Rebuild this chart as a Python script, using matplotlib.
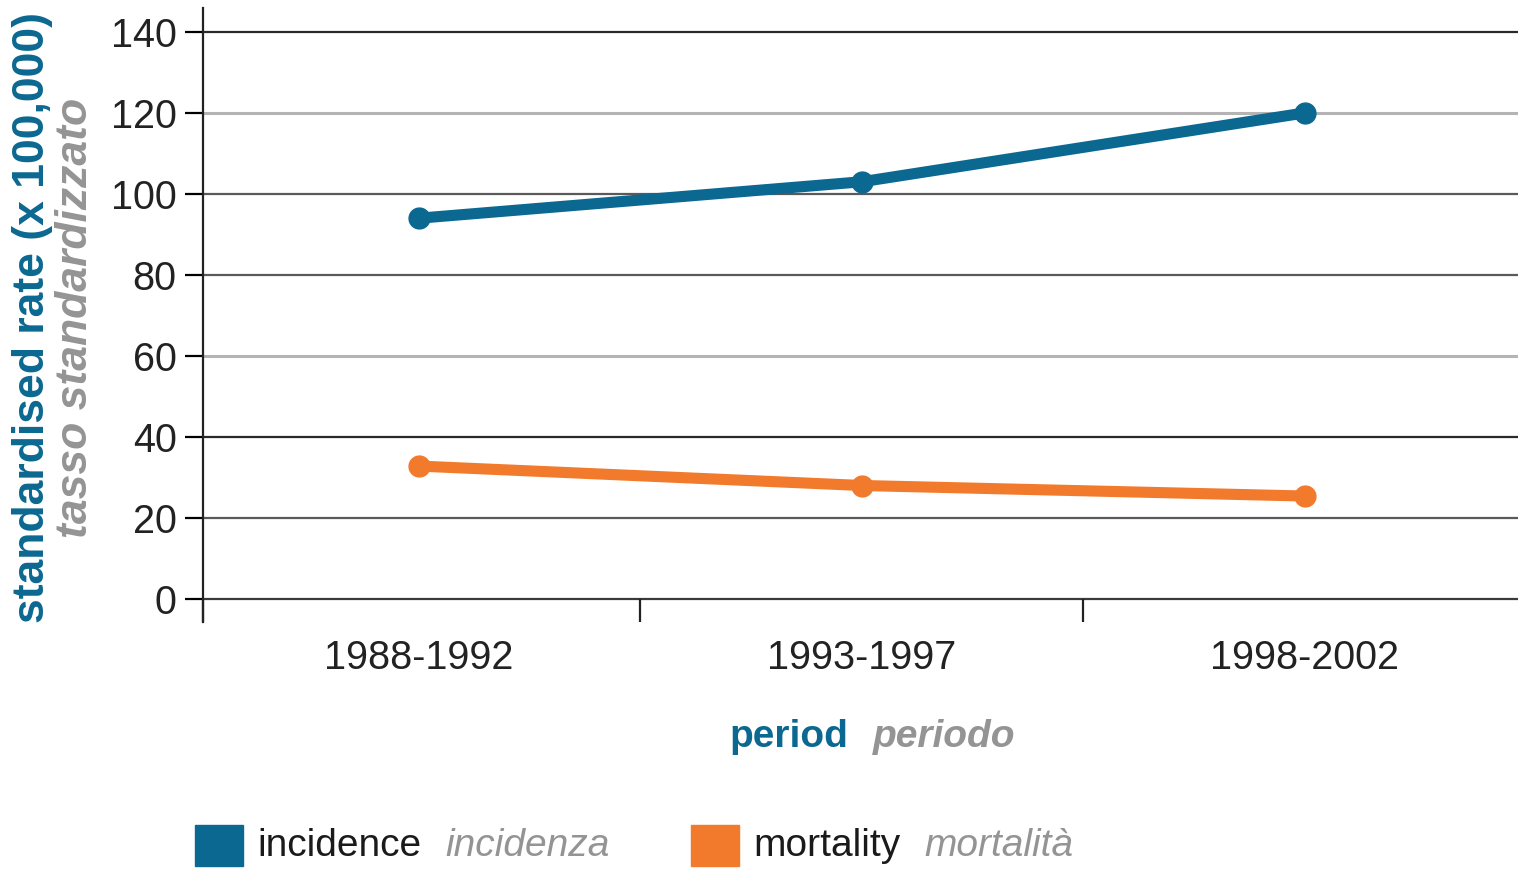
import matplotlib
matplotlib.use("Agg")
import matplotlib.pyplot as plt
from matplotlib.patches import Rectangle

# data
periods = ["1988-1992", "1993-1997", "1998-2002"]
incidence = [94.0, 103.0, 120.0]
mortality = [32.8, 28.0, 25.4]
yticks = [0, 20, 40, 60, 80, 100, 120, 140]
grid_colors = ["#3a3a3a", "#5a5a5a", "#2a2a2a", "#b4b4b4", "#5a5a5a", "#5a5a5a", "#b4b4b4", "#2a2a2a"]

BLUE = "#0b6890"
ORANGE = "#f27a2c"
GREY = "#949494"
FONT = ["Liberation Sans", "DejaVu Sans"]

W, H = 1518, 869
fig = plt.figure(figsize=(W / 100, H / 100), dpi=100)
ax = fig.add_axes([203 / W, 1 - 622 / H, (W - 203) / W, (622 - 8) / H])

x = list(range(len(periods)))
ax.plot(x, incidence, color=BLUE, lw=8, marker="o", ms=15, solid_capstyle="round", zorder=5)
ax.plot(x, mortality, color=ORANGE, lw=8, marker="o", ms=15, solid_capstyle="round", zorder=5)

for v, c in zip(yticks, grid_colors):
    ax.axhline(v, color=c, lw=2.2 if c == "#b4b4b4" else 1.6, zorder=1)

x_left, x_right = -0.4876, 2.481
ax.set_xlim(x_left, x_right)
ax.set_ylim(-5.7, 145.9)

for s in ["top", "right", "bottom"]:
    ax.spines[s].set_visible(False)
ax.spines["left"].set_linewidth(1.6)
ax.spines["left"].set_color("#222222")

ax.set_yticks(yticks)
ax.set_yticklabels([str(v) for v in yticks], family=FONT, fontsize=28.5, color="#222222")
ax.tick_params(axis="y", direction="out", length=13, width=1.6, pad=6)
for t, c in zip(ax.yaxis.get_major_ticks(), grid_colors):
    t.tick1line.set_color(c)

ax.set_xticks(x)
ax.set_xticklabels(periods, family=FONT, fontsize=28.5, color="#222222")
# category boundaries: short ticks below the zero line
ax.set_xticks([x_left, 0.5, 1.5], minor=True)
ax.tick_params(axis="x", which="major", length=0, pad=12)
ax.tick_params(axis="x", which="minor", direction="in", length=16.5, width=1.6, color="#222222")

# axis titles
fig.text(33 / W, 1 - 317 / H, "standardised rate (x 100,000)", rotation=90,
         ha="center", va="center", color=BLUE, fontsize=32, fontweight="bold", family=FONT)
fig.text(76 / W, 1 - 318 / H, "tasso standardizzato", rotation=90,
         ha="center", va="center", color=GREY, fontsize=32, fontweight="bold",
         style="italic", family=FONT)
fig.text(848 / W, 1 - 737 / H, "period", ha="right", va="center", color=BLUE,
         fontsize=28, fontweight="bold", family=FONT)
fig.text(873 / W, 1 - 737 / H, "periodo", ha="left", va="center", color=GREY,
         fontsize=28, fontweight="bold", style="italic", family=FONT)

# legend
legend_items = [("incidence", "incidenza", BLUE, 195),
                ("mortality", "mortalità", ORANGE, 691)]
for en, it, col, x0 in legend_items:
    fig.patches.append(Rectangle((x0 / W, 1 - 866 / H), 48 / W, 41 / H,
                                 transform=fig.transFigure, color=col))
    t = fig.text((x0 + 62) / W, 1 - 846 / H, en, ha="left", va="center",
                 color="#1a1a1a", fontsize=28, family=FONT)
    fig.canvas.draw()
    bb = t.get_window_extent()
    fig.text(bb.x1 / W + 24 / W, 1 - 846 / H, it, ha="left", va="center",
             color=GREY, fontsize=28, style="italic", family=FONT)

fig.savefig("out.png", dpi=100)
